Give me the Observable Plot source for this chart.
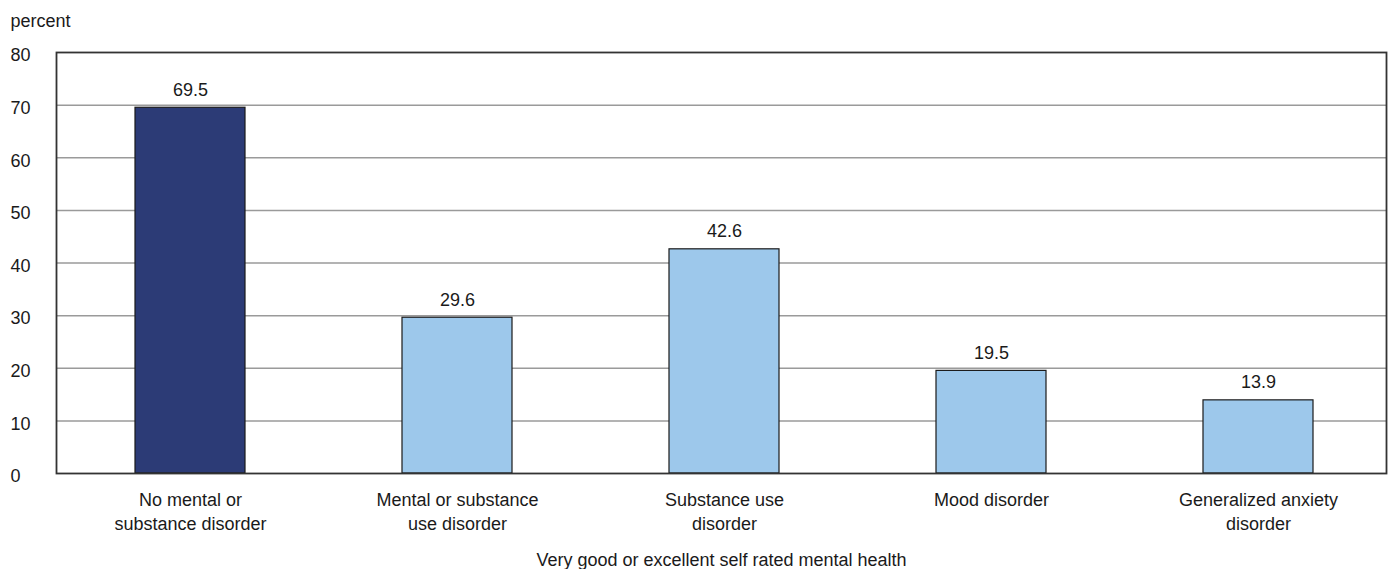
<!DOCTYPE html>
<html>
<head>
<meta charset="utf-8">
<script src="https://cdn.jsdelivr.net/npm/d3@7"></script>
<script src="https://cdn.jsdelivr.net/npm/@observablehq/plot@0.6"></script>
<style>
  html, body { margin: 0; padding: 0; background: #fff; }
  #chart svg { display: block; }
</style>
</head>
<body>
<div id="chart"></div>
<script>
// Share reporting very good or excellent self-rated mental health, by disorder group
const categories = [
  "No mental or\nsubstance disorder",
  "Mental or substance\nuse disorder",
  "Substance use\ndisorder",
  "Mood disorder",
  "Generalized anxiety\ndisorder"
];
const values = [69.5, 29.6, 42.6, 19.5, 13.9];
const groups = ["none", "disorder", "disorder", "disorder", "disorder"];
const yTicks = [0, 10, 20, 30, 40, 50, 60, 70, 80];
const yLabel = "percent";
const xTitle = "Very good or excellent self rated mental health";

const data = categories.map((c, i) => ({category: c, value: values[i], group: groups[i]}));

const font = "'Liberation Sans', Arial, sans-serif";

const chart = Plot.plot({
  width: 1390,
  height: 569,
  marginLeft: 56,
  marginRight: 4,
  marginTop: 52,
  marginBottom: 96,
  style: {fontFamily: font, fontSize: "18px", color: "#1a1a1a", background: "#fff"},
  x: {domain: categories, range: [56.5, 1391.5], paddingInner: 0.587, paddingOuter: 0.2935, axis: null},
  y: {domain: [0, 80], axis: null},
  color: {domain: ["none", "disorder"], range: ["#2c3b76", "#9dc8eb"]},
  marks: [
    Plot.ruleY(yTicks.filter(d => d > 0 && d < 80), {stroke: "#9a9a9a", strokeWidth: 1.5}),
    Plot.barY(data, {x: "category", y: "value", fill: "group", stroke: "#1a1a1a", strokeWidth: 1.2}),
    Plot.text(data, {
      x: "category", y: "value", text: d => d.value.toFixed(1),
      lineAnchor: "bottom", dy: -12, fill: "#1a1a1a"
    }),
    Plot.frame({stroke: "#333", strokeWidth: 1.8}),
    Plot.axisY(yTicks, {
      tickSize: 0, tickPadding: 0, textAnchor: "start", dx: -46, dy: 3,
      tickFormat: d => String(d), fill: "#1a1a1a", label: null
    }),
    Plot.axisX({
      tickSize: 0, tickPadding: 16, lineHeight: 1.33, fill: "#1a1a1a", label: null
    }),
    Plot.text([yLabel], {
      frameAnchor: "top-left", textAnchor: "start", lineAnchor: "bottom",
      dx: -46, dy: -26, text: d => d, fill: "#1a1a1a"
    }),
    Plot.text([xTitle], {
      frameAnchor: "bottom", lineAnchor: "bottom", dy: 92, text: d => d, fill: "#1a1a1a"
    })
  ]
});

document.getElementById("chart").appendChild(chart);
</script>
</body>
</html>
